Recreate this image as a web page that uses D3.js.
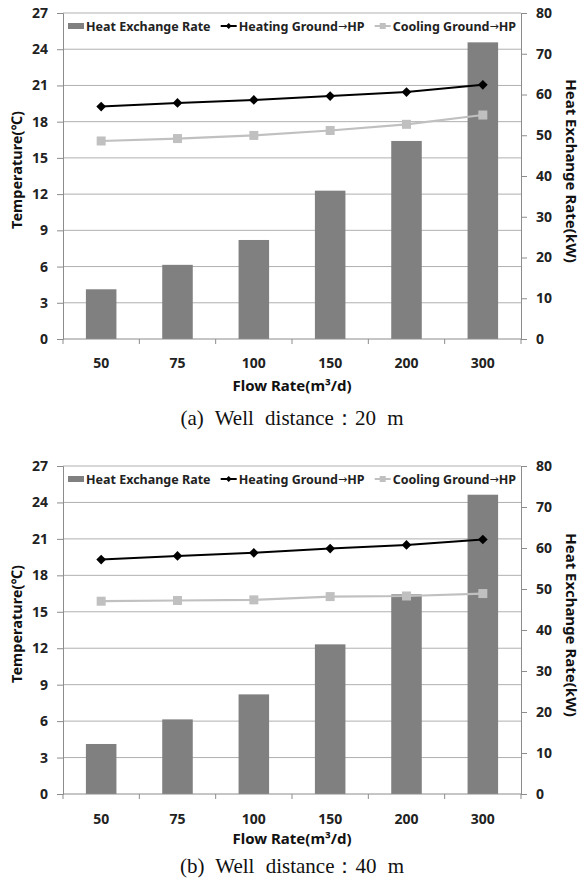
<!DOCTYPE html>
<html>
<head>
<meta charset="utf-8">
<script src="https://cdn.jsdelivr.net/npm/d3@7"></script>
<style>
  html, body { margin: 0; padding: 0; background: #fff; }
  svg { display: block; font-family: "Noto Sans", "Open Sans", sans-serif; }
</style>
</head>
<body>
<div id="chart"></div>
<script>
// Data
const flowRates = ['50', '75', '100', '150', '200', '300'];
const tempTicks = [0, 3, 6, 9, 12, 15, 18, 21, 24, 27];
const rateTicks = [0, 10, 20, 30, 40, 50, 60, 70, 80];

// (a) well distance 20 m
const heatRateA = [12.2, 18.2, 24.3, 36.4, 48.6, 72.8];
const heatingA = [19.25, 19.55, 19.8, 20.12, 20.45, 21.05];
const coolingA = [16.4, 16.6, 16.86, 17.27, 17.78, 18.55];

// (b) well distance 40 m
const heatRateB = [12.2, 18.2, 24.3, 36.5, 48.7, 73.0];
const heatingB = [19.3, 19.6, 19.85, 20.2, 20.5, 20.95];
const coolingB = [15.87, 15.93, 15.98, 16.25, 16.3, 16.5];

const legendLabels = [['Heat Exchange Rate', ''], ['Heating Ground', 'HP'], ['Cooling Ground', 'HP']];

const W = 583, H = 885;
const svg = d3.select('#chart').append('svg')
    .attr('width', W)
    .attr('height', H);

const barColor = '#808080';
const heatColor = '#000000';
const coolColor = '#c0c0c0';
const gridColor = '#b0b0b0';
const axisColor = '#8c8c8c';

function drawPanel(opt) {
    const left = 63, right = 521;
    const top = opt.top, bottom = opt.bottom;

    const x = d3.scaleBand()
        .domain(flowRates)
        .range([left, right])
        .paddingInner(0.6)
        .paddingOuter(0.3);

    const yT = d3.scaleLinear().domain([0, 27]).range([bottom, top]);
    const yR = d3.scaleLinear().domain([0, 80]).range([bottom, top]);

    const g = svg.append('g');

    // horizontal gridlines
    g.append('g')
        .selectAll('line')
        .data(tempTicks.filter(t => t > 0))
        .join('line')
        .attr('x1', left).attr('x2', right)
        .attr('y1', d => yT(d)).attr('y2', d => yT(d))
        .attr('stroke', gridColor)
        .attr('stroke-width', 1);

    // bars
    g.append('g')
        .selectAll('rect')
        .data(opt.rate)
        .join('rect')
        .attr('x', (d, i) => x(flowRates[i]))
        .attr('width', x.bandwidth())
        .attr('y', d => yR(d))
        .attr('height', d => bottom - yR(d))
        .attr('fill', barColor);

    // left / right axes
    const axL = g.append('g')
        .attr('transform', `translate(${left},0)`)
        .call(d3.axisLeft(yT).tickValues(tempTicks).tickSize(6).tickPadding(9));
    const axR = g.append('g')
        .attr('transform', `translate(${right},0)`)
        .call(d3.axisRight(yR).tickValues(rateTicks).tickSize(6).tickPadding(9));
    [axL, axR].forEach(ax => {
        ax.attr('font-family', null);
        ax.select('.domain').attr('stroke', axisColor);
        ax.selectAll('.tick line').attr('stroke', axisColor);
        ax.selectAll('.tick text')
            .attr('font-size', 14)
            .attr('font-weight', 'bold')
            .attr('fill', '#222');
    });

    // bottom axis, ticks sit on category boundaries
    const step = (right - left) / flowRates.length;
    g.append('line')
        .attr('x1', left).attr('x2', right)
        .attr('y1', bottom).attr('y2', bottom)
        .attr('stroke', axisColor);
    g.append('g')
        .selectAll('line')
        .data(d3.range(flowRates.length + 1))
        .join('line')
        .attr('x1', i => left + i * step).attr('x2', i => left + i * step)
        .attr('y1', bottom).attr('y2', bottom + 5)
        .attr('stroke', axisColor);
    g.append('g')
        .selectAll('text')
        .data(flowRates)
        .join('text')
        .attr('x', d => x(d) + x.bandwidth() / 2)
        .attr('y', opt.tickLabelY)
        .attr('text-anchor', 'middle')
        .attr('dominant-baseline', 'central')
        .attr('font-size', 14)
        .attr('font-weight', 'bold')
        .attr('fill', '#222')
        .text(d => d);

    // lines
    const cx = i => x(flowRates[i]) + x.bandwidth() / 2;
    const line = d3.line().x((d, i) => cx(i)).y(d => yT(d));

    g.append('path')
        .datum(opt.cooling)
        .attr('d', line)
        .attr('fill', 'none')
        .attr('stroke', coolColor)
        .attr('stroke-width', 2.2);
    g.append('g')
        .selectAll('rect')
        .data(opt.cooling)
        .join('rect')
        .attr('x', (d, i) => cx(i) - 4.5)
        .attr('y', d => yT(d) - 4.5)
        .attr('width', 9).attr('height', 9)
        .attr('fill', coolColor);

    g.append('path')
        .datum(opt.heating)
        .attr('d', line)
        .attr('fill', 'none')
        .attr('stroke', heatColor)
        .attr('stroke-width', 2);
    g.append('g')
        .selectAll('path')
        .data(opt.heating)
        .join('path')
        .attr('d', d3.symbol(d3.symbolDiamond2, 60))
        .attr('transform', (d, i) => `translate(${cx(i)},${yT(d)})`)
        .attr('fill', heatColor);

    // legend, spread across the top of the plot
    const lg = g.append('g').attr('transform', `translate(68,${top + 13})`);
    const items = legendLabels.map((lab, i) => {
        const item = lg.append('g');
        if (i === 0) {
            item.append('rect').attr('x', 0).attr('y', -3).attr('width', 16).attr('height', 6).attr('fill', barColor);
        } else if (i === 1) {
            item.append('line').attr('x1', 0).attr('x2', 16).attr('y1', 0).attr('y2', 0)
                .attr('stroke', heatColor).attr('stroke-width', 2);
            item.append('path').attr('d', d3.symbol(d3.symbolDiamond2, 22))
                .attr('transform', 'translate(8,0)').attr('fill', heatColor);
        } else {
            item.append('line').attr('x1', 0).attr('x2', 16).attr('y1', 0).attr('y2', 0)
                .attr('stroke', coolColor).attr('stroke-width', 2);
            item.append('rect').attr('x', 5).attr('y', -3).attr('width', 6).attr('height', 6)
                .attr('fill', coolColor);
        }
        const t = item.append('text')
            .attr('x', 18)
            .attr('y', 0)
            .attr('dominant-baseline', 'central')
            .attr('font-size', 12.5)
            .attr('font-weight', 'bold')
            .attr('fill', '#222');
        t.append('tspan').text(lab[0]);
        if (lab[1]) {
            t.append('tspan')
                .attr('font-family', '"DejaVu Sans", sans-serif')
                .attr('font-weight', 'normal')
                .attr('font-size', 11)
                .text('\u2192');
            t.append('tspan').text(lab[1]);
        }
        return { item, w: 18 + t.node().getComputedTextLength() };
    });
    const total = d3.sum(items, d => d.w);
    const gap = Math.max(6, (right - 5 - 68 - total) / 2);
    let lx = 0;
    items.forEach(d => {
        d.item.attr('transform', `translate(${lx},0)`);
        lx += d.w + gap;
    });

    // axis titles
    svg.append('text')
        .attr('transform', `translate(16,${(top + bottom) / 2 - 6}) rotate(-90)`)
        .attr('text-anchor', 'middle')
        .attr('dominant-baseline', 'central')
        .attr('font-size', 14.5)
        .attr('font-weight', 'bold')
        .attr('fill', '#111')
        .text('Temperature(\u2103)');
    svg.append('text')
        .attr('transform', `translate(572,${(top + bottom) / 2 - 5}) rotate(90)`)
        .attr('text-anchor', 'middle')
        .attr('dominant-baseline', 'central')
        .attr('font-size', 15)
        .attr('font-weight', 'bold')
        .attr('fill', '#111')
        .text('Heat Exchange Rate(kW)');
    svg.append('text')
        .attr('x', (left + right) / 2)
        .attr('y', opt.titleY)
        .attr('text-anchor', 'middle')
        .attr('dominant-baseline', 'central')
        .attr('font-size', 15)
        .attr('font-weight', 'bold')
        .attr('fill', '#111')
        .text('Flow Rate(m\u00b3/d)');

    // caption
    svg.append('text')
        .attr('x', (left + right) / 2)
        .attr('y', opt.captionY)
        .attr('text-anchor', 'middle')
        .attr('dominant-baseline', 'central')
        .attr('font-family', '"Liberation Serif", "DejaVu Serif", serif')
        .attr('font-size', 21)
        .attr('word-spacing', 6)
        .attr('fill', '#111')
        .text(opt.caption);
}

drawPanel({
    top: 13, bottom: 339,
    tickLabelY: 362, titleY: 385, captionY: 418,
    rate: heatRateA, heating: heatingA, cooling: coolingA,
    caption: '(a) Well distance\uff1a20 m'
});

drawPanel({
    top: 466, bottom: 794,
    tickLabelY: 818, titleY: 838, captionY: 866,
    rate: heatRateB, heating: heatingB, cooling: coolingB,
    caption: '(b) Well distance\uff1a40 m'
});
</script>
</body>
</html>
